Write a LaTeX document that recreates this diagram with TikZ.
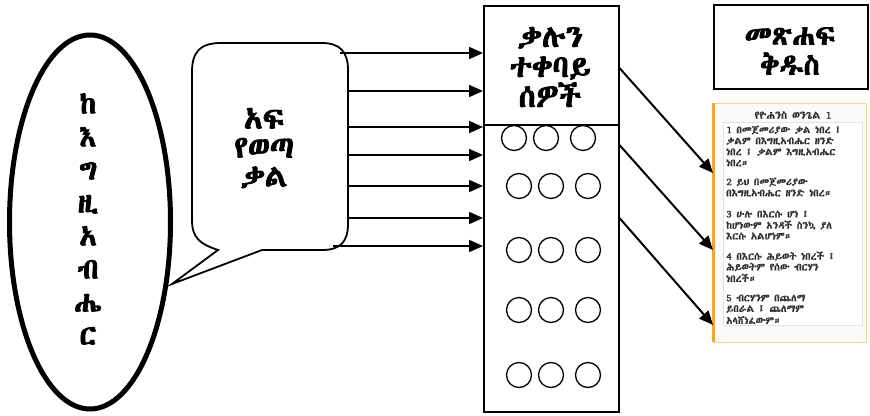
\documentclass[tikz,border=0pt]{standalone}
\usepackage{fontspec}
\usetikzlibrary{arrows.meta,shapes.geometric}
\newfontfamily\eth[FakeBold=2.5]{Abyssinica SIL}
\newfontfamily\ethr[FakeBold=1]{Abyssinica SIL}
\definecolor{orng}{HTML}{F0A43A}
\definecolor{pgrey}{HTML}{E2E2E2}
\definecolor{vtext}{HTML}{303030}
\tikzset{
  arr/.style={line width=2pt,-{Triangle[length=14pt,width=12pt]}},
  ring/.style={circle,draw,line width=1.3pt,minimum size=25pt,inner sep=0pt},
  bigtxt/.style={align=center,font=\eth\fontsize{31}{29}\selectfont},
  vline/.style={anchor=west,inner sep=0pt,text=vtext,font=\ethr\fontsize{10.3}{11}\selectfont}
}
\begin{document}
\begin{tikzpicture}[x=1pt,y=-1pt]
\useasboundingbox (0,0) rectangle (870,415);
% ellipse
\node[ellipse,draw,line width=5pt,minimum width=161pt,minimum height=374pt,inner sep=0pt] (god) at (90,222) {};
\node[align=center,font=\eth\fontsize{29}{33}\selectfont] (godtxt) at (88,219) {ከ\\እ\\ግ\\ዚ\\አ\\ብ\\ሔ\\ር};
% speech bubble
\draw[line width=1.8pt,fill=white]
  (221,43) -- (322,43) .. controls (340,43) and (348,52) .. (348,70)
  -- (348,224) .. controls (348,242) and (340,250) .. (322,250)
  -- (262,250) -- (172,284) -- (218,250)
  .. controls (200,244) and (192,238) .. (192,220)
  -- (192,72) .. controls (192,52) and (200,43) .. (221,43) -- cycle;
\node[bigtxt] (mouth) at (264,148) {አፍ\\የወጣ\\ቃል};
% receivers box
\node[draw,line width=1.5pt,minimum width=135pt,minimum height=406pt,anchor=north west,inner sep=0pt] (recv) at (483,5) {};
\draw[line width=1.5pt] (recv.west |- 0,125) -- (recv.east |- 0,125);
\node[bigtxt,font=\eth\fontsize{31}{30}\selectfont] (hdr) at (550,67) {ቃሉን\\ተቀባይ\\ሰዎች};
% circles
\node[ring] (c11) at (514,138) {};
\node[ring] (c12) at (546,138) {};
\node[ring] (c13) at (583,138) {};
\foreach \r/\y in {2/186,3/250,4/310,5/375}{
  \node[ring] (c\r1) at (519,\y) {};
  \node[ring] (c\r2) at (551,\y) {};
  \node[ring] (c\r3) at (588,\y) {};
}
% arrows bubble -> box
\foreach \i/\x/\y in {1/340/53,2/348/91,3/348/127,4/348/155,5/348/186,6/348/218,7/333/246}{
  \coordinate (s\i) at (\x,\y);
  \draw[arr] (s\i) -- (recv.west |- s\i);
}
% bible title box
\node[draw,line width=2pt,minimum width=154pt,minimum height=84pt,anchor=north west,inner sep=0pt] (mk) at (713,4) {};
\node[bigtxt,font=\eth\fontsize{29}{30}\selectfont] (mktxt) at (790,51) {መጽሐፍ\\ቅዱስ};
% bible screenshot
\node[draw=orng!50,line width=0.8pt,fill=black!2,minimum width=153pt,minimum height=239pt,anchor=north west,inner sep=0pt] (bible) at (713,103) {};
\fill[orng] (711.5,103) rectangle (714.5,342);
\draw[pgrey,line width=0.8pt,fill=white] (723,122) rectangle (862,325);
\node[anchor=center,inner sep=0pt,text=vtext,font=\ethr\fontsize{11}{11}\selectfont] (btitle) at (793,115) {የዮሐንስ ወንጌል 1};
\foreach \y/\t in {130/{1 በመጀመሪያው ቃል ነበረ ፤},141/{ቃልም በእግዚአብሔር ዘንድ},152/{ነበረ ፤ ቃልም እግዚአብሔር},163/{ነበረ።},
  182/{2 ይህ በመጀመሪያው},193/{በእግዚአብሔር ዘንድ ነበረ።},
  214/{3 ሁሉ በእርሱ ሆነ ፤},225/{ከሆነውም አንዳች ስንኳ ያለ},236/{እርሱ አልሆነም።},
  256/{4 በእርሱ ሕይወት ነበረች ፤},267/{ሕይወትም የሰው ብርሃን},278/{ነበረች።},
  298/{5 ብርሃንም በጨለማ},309/{ይበራል ፤ ጨለማም},320/{አላሸነፈውም።}}{
  \node[vline] at (726,\y) {\t};
}
% arrows box -> screenshot
\foreach \i/\a/\b in {1/68/173,2/145/250,3/218/325}{
  \coordinate (r\i) at (618,\a);
  \coordinate (t\i) at (713,\b);
  \draw[arr] (recv.east |- r\i) -- (bible.west |- t\i);
}
\end{tikzpicture}
\end{document}
